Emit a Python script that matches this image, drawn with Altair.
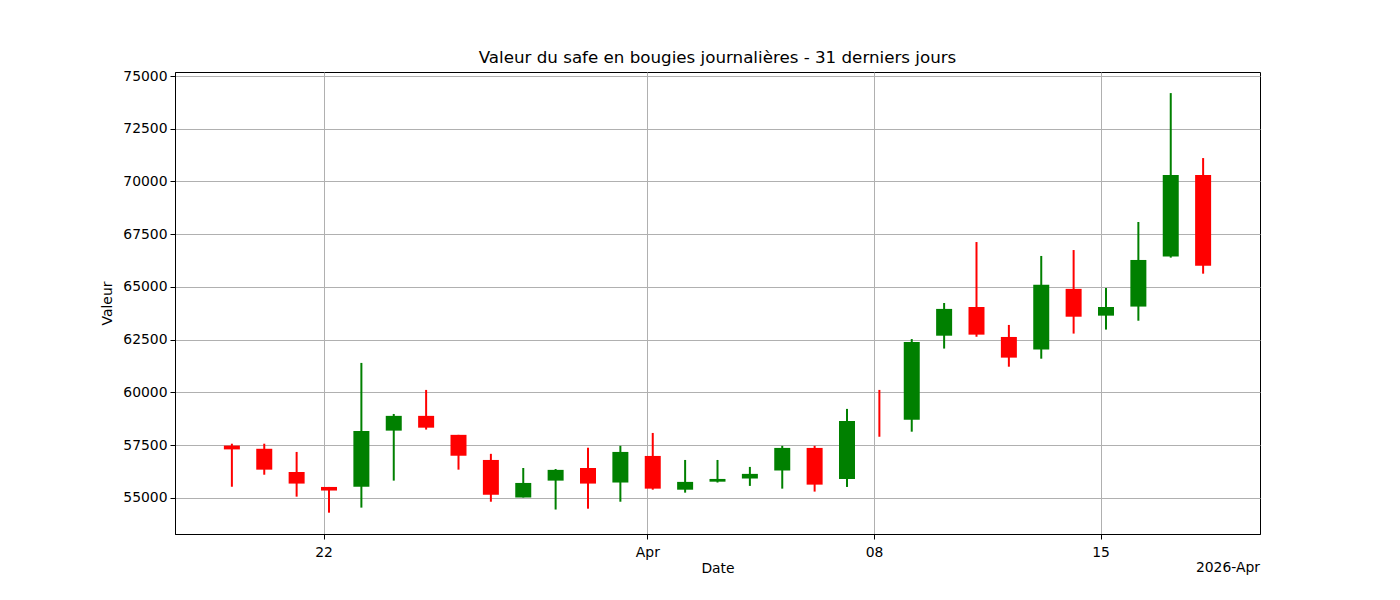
import altair as alt
import pandas as pd

dates = [f"2026-03-{d:02d}T04:00:00Z" for d in range(19, 32)] + \
        [f"2026-04-{d:02d}T04:00:00Z" for d in range(1, 19)]
opens = [57480, 57330, 56230, 55520, 55530, 58190, 58890, 57990, 56800, 55020,
         55820, 56420, 55730, 56990, 55390, 55770, 55920, 56300, 57370, 55900,
         58000, 58710, 62690, 64050, 62630, 62030, 64910, 63640, 64070, 66440, 70310]
highs = [57570, 57570, 57180, 55520, 61400, 58980, 60120, 57990, 57090, 56420,
         56370, 57380, 57470, 58080, 56800, 56800, 56470, 57470, 57470, 59220,
         60120, 62530, 64240, 67130, 63200, 66470, 66750, 64950, 68080, 74190, 71110]
lows = [55530, 56100, 55060, 54300, 54540, 55820, 58240, 56340, 54820, 55020,
        54450, 54490, 54820, 55390, 55250, 55730, 55570, 55440, 55300, 55520,
        57900, 58140, 62080, 62640, 61220, 61600, 62790, 62980, 63400, 66390, 65630]
closes = [57300, 56340, 55680, 55350, 58170, 58890, 58330, 57000, 55150, 55710,
          56330, 55680, 57180, 55440, 55760, 55900, 56140, 57370, 55630, 58650,
          58000, 62390, 63960, 62740, 61650, 65100, 63590, 64050, 66280, 70310, 66010]

df = pd.DataFrame({"date": dates, "open": opens, "high": highs, "low": lows, "close": closes})

W, H = 1085, 462
FONT = "DejaVu Sans"
FS = 13.9

x_dom = [alt.DateTime(year=2026, month=3, date=17, hours=9, minutes=50, utc=True),
         alt.DateTime(year=2026, month=4, date=19, hours=22, minutes=10, utc=True)]
x_ticks = [alt.DateTime(year=2026, month=3, date=22, utc=True),
           alt.DateTime(year=2026, month=4, date=1, utc=True),
           alt.DateTime(year=2026, month=4, date=8, utc=True),
           alt.DateTime(year=2026, month=4, date=15, utc=True)]

x_enc = alt.X("date:T",
              scale=alt.Scale(type="utc", domain=x_dom, padding=0, nice=False),
              axis=alt.Axis(values=x_ticks, title="Date",
                            labelExpr="utcdate(datum.value)==1 ? utcFormat(datum.value,'%b') : utcFormat(datum.value,'%d')",
                            grid=True, labelAngle=0))
y_scale = alt.Scale(domain=[53290, 75190], nice=False, zero=False, padding=0)
y_axis = alt.Axis(values=list(range(55000, 75001, 2500)), format="d", title="Valeur", grid=True)

color = alt.condition("datum.close > datum.open", alt.value("#008000"), alt.value("#ff0000"))

base = alt.Chart(df)
wick = base.mark_rule(strokeWidth=2).encode(
    x=x_enc,
    y=alt.Y("low:Q", scale=y_scale, axis=y_axis),
    y2="high:Q",
    color=color,
)
body = base.mark_bar(size=16).encode(
    x=x_enc,
    y=alt.Y("open:Q", scale=y_scale, axis=y_axis),
    y2="close:Q",
    color=color,
)
offset = alt.Chart(pd.DataFrame({"t": ["2026-Apr"]})).mark_text(
    align="right", baseline="middle", font=FONT, fontSize=FS, color="black"
).encode(x=alt.value(W), y=alt.value(H + 34), text="t:N")

chart = alt.layer(wick, body, offset).properties(
    width=W, height=H,
    title=alt.TitleParams("Valeur du safe en bougies journalières - 31 derniers jours",
                          font=FONT, fontSize=16.7, fontWeight="normal", color="black", offset=2),
    padding={"left": 92, "top": 42, "right": 5, "bottom": 5},
).configure_view(stroke="black", strokeWidth=1).configure_axis(
    labelFont=FONT, labelFontSize=FS, labelColor="black",
    titleFont=FONT, titleFontSize=FS, titleFontWeight="normal", titleColor="black",
    gridColor="#b0b0b0", gridWidth=1, gridOpacity=1,
    domainColor="black", domainWidth=1,
    tickColor="black", tickSize=5, tickWidth=1,
    labelPadding=3,
).configure_axisX(titlePadding=3, labelPadding=6).configure_axisY(titlePadding=8)

chart.save("out.html", embed_options={"renderer": "svg", "actions": False})
